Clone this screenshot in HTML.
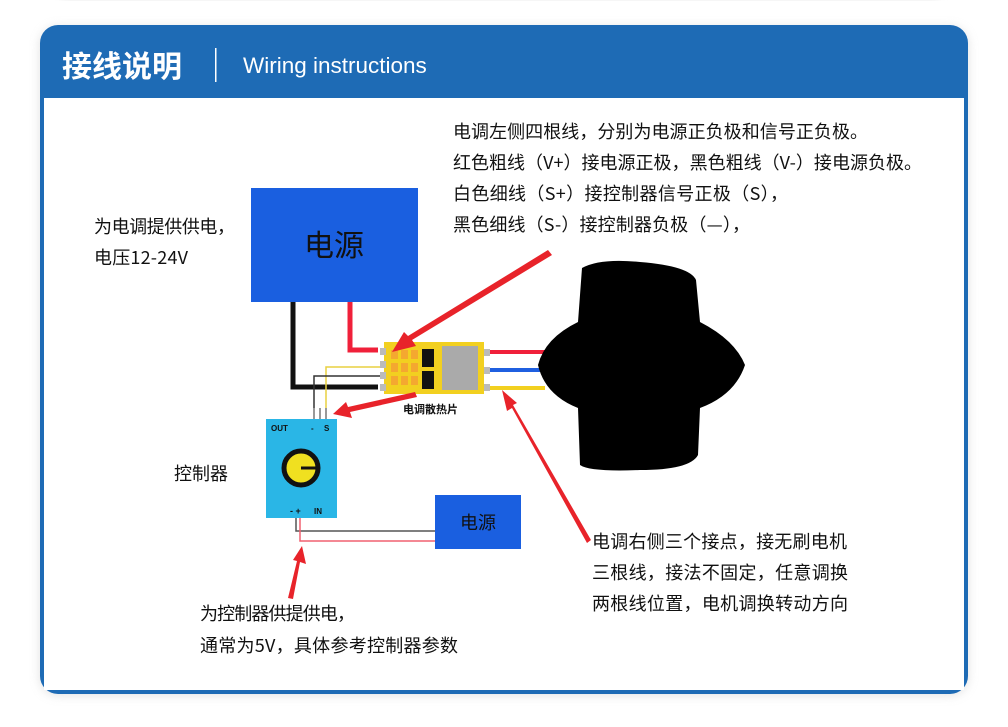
<!DOCTYPE html>
<html><head><meta charset="utf-8"><style>
body{margin:0;width:1008px;height:727px;background:#fff;overflow:hidden;font-family:"Liberation Sans","Noto Sans CJK SC",sans-serif}
</style></head><body>
<svg width="1008" height="727" viewBox="0 0 1008 727" xmlns="http://www.w3.org/2000/svg" style="position:absolute;left:0;top:0">
<defs>
<filter id="sh" x="-5%" y="-5%" width="110%" height="110%"><feGaussianBlur stdDeviation="5"/></filter>
</defs>
<rect x="60" y="-20" width="880" height="20" rx="10" fill="#ddd" filter="url(#sh)" opacity="0.6"/>
<rect x="40" y="27" width="928" height="668" rx="18" fill="#ccc" filter="url(#sh)" opacity="0.6"/>
<rect x="40" y="25" width="928" height="669" rx="18" fill="#1e6bb5"/>
<rect x="44" y="98" width="920" height="592" fill="#fff"/>
<text x="62" y="77" font-size="30" font-weight="bold" fill="#fff" font-family="Noto Sans CJK SC,sans-serif">接线说明</text>
<rect x="215" y="48" width="1.5" height="34" fill="#fff"/>
<text x="243" y="73" font-size="22.5" fill="#fff">Wiring instructions</text>

<g font-family="Noto Sans CJK SC,sans-serif" font-size="18" fill="#111">
<text x="453" y="138" textLength="415" lengthAdjust="spacing">电调左侧四根线，分别为电源正负极和信号正负极。</text>
<text x="453" y="169" textLength="469" lengthAdjust="spacing">红色粗线（V+）接电源正极，黑色粗线（V-）接电源负极。</text>
<text x="453" y="200" textLength="335" lengthAdjust="spacing">白色细线（S+）接控制器信号正极（S），</text>
<text x="453" y="231" textLength="297" lengthAdjust="spacing">黑色细线（S-）接控制器负极（—），</text>
<text x="94" y="233" textLength="141" lengthAdjust="spacing">为电调提供供电，</text>
<text x="94" y="264" textLength="94" lengthAdjust="spacing">电压12-24V</text>
<text x="174" y="480" textLength="54" lengthAdjust="spacing">控制器</text>
<text x="592" y="548" textLength="255" lengthAdjust="spacing">电调右侧三个接点，接无刷电机</text>
<text x="592" y="579" textLength="256" lengthAdjust="spacing">三根线，接法不固定，任意调换</text>
<text x="592" y="610" textLength="256" lengthAdjust="spacing">两根线位置，电机调换转动方向</text>
<text x="200" y="620" textLength="155" lengthAdjust="spacing">为控制器供提供电，</text>
<text x="200" y="652" textLength="258" lengthAdjust="spacing">通常为5V，具体参考控制器参数</text>
</g>

<rect x="251" y="188" width="167" height="114" fill="#1a5fe0"/>
<text x="334" y="256" font-size="30" text-anchor="middle" fill="#111" font-family="Noto Sans CJK SC,sans-serif">电源</text>
<polyline points="350,302 350,350 378,350" fill="none" stroke="#f0203a" stroke-width="5"/>
<polyline points="293,302 293,387 378,387" fill="none" stroke="#111" stroke-width="5"/>
<polyline points="326,410 326,367 380,367" fill="none" stroke="#e8d040" stroke-width="1.5"/>
<polyline points="314,410 314,376 380,376" fill="none" stroke="#333" stroke-width="1.5"/>
<rect x="384" y="342" width="100" height="52" fill="#f2d020"/>
<rect x="380" y="348" width="6" height="7" fill="#bbb"/><rect x="380" y="361" width="6" height="7" fill="#bbb"/>
<rect x="380" y="372" width="6" height="7" fill="#bbb"/><rect x="380" y="384" width="6" height="7" fill="#bbb"/>
<g fill="#f4a830"><rect x="391" y="350" width="7" height="9"/><rect x="401" y="350" width="7" height="9"/><rect x="411" y="350" width="7" height="9"/>
<rect x="391" y="363" width="7" height="9"/><rect x="401" y="363" width="7" height="9"/><rect x="411" y="363" width="7" height="9"/>
<rect x="391" y="376" width="7" height="9"/><rect x="401" y="376" width="7" height="9"/><rect x="411" y="376" width="7" height="9"/></g>
<rect x="422" y="349" width="12" height="18" fill="#111"/><rect x="422" y="371" width="12" height="18" fill="#111"/>
<rect x="442" y="346" width="36" height="44" fill="#aaa"/>
<rect x="484" y="349" width="6" height="7" fill="#bbb"/><rect x="484" y="367" width="6" height="7" fill="#bbb"/><rect x="484" y="384" width="6" height="7" fill="#bbb"/>
<line x1="490" y1="352" x2="545" y2="352" stroke="#f0203a" stroke-width="4"/>
<line x1="490" y1="370" x2="545" y2="370" stroke="#1f5fe0" stroke-width="4"/>
<line x1="490" y1="388" x2="545" y2="388" stroke="#f2d020" stroke-width="4"/>
<text x="403" y="413" font-size="11" font-weight="bold" fill="#111" font-family="Noto Sans CJK SC,sans-serif">电调散热片</text>
<path d="M582,268 Q600,258 640,262 Q690,266 696,280 L700,322 Q735,340 745,365 Q735,395 700,408 L698,455 Q690,470 640,470 Q590,472 580,465 L578,408 Q545,395 538,365 Q545,338 578,322 Z" fill="#000"/>
<line x1="314" y1="408" x2="314" y2="420" stroke="#999" stroke-width="2"/>
<line x1="320" y1="408" x2="320" y2="420" stroke="#999" stroke-width="2"/>
<line x1="326" y1="408" x2="326" y2="420" stroke="#999" stroke-width="2"/>
<rect x="266" y="419" width="71" height="99" fill="#2ab6e6"/>
<text x="271" y="431" font-size="8" font-weight="bold" fill="#111">OUT</text>
<text x="311" y="431" font-size="8" font-weight="bold" fill="#111">-</text>
<text x="324" y="431" font-size="8" font-weight="bold" fill="#111">S</text>
<circle cx="301" cy="468" r="17" fill="#f0e020" stroke="#111" stroke-width="5"/>
<line x1="301" y1="468" x2="318" y2="468" stroke="#111" stroke-width="3"/>
<text x="290" y="514" font-size="9" font-weight="bold" fill="#111">- +</text>
<text x="314" y="514" font-size="8" font-weight="bold" fill="#111">IN</text>
<polyline points="296,518 296,531 435,531" fill="none" stroke="#555" stroke-width="1.5"/>
<polyline points="300,518 300,541 435,541" fill="none" stroke="#f06070" stroke-width="1.5"/>
<rect x="435" y="495" width="86" height="54" fill="#1a5fe0"/>
<text x="478" y="529" font-size="18" text-anchor="middle" fill="#111" font-family="Noto Sans CJK SC,sans-serif">电源</text>
<g fill="#e8232a">
<polygon points="548,250 552,255 412,340 416,346 392,352 404,332 408,336"/>
<polygon points="415,392 417,397 350,412 352,418 333,414 346,402 348,407"/>
<polygon points="591,540 587,543 512,408 507,411 502,390 517,403 513,405"/>
<polygon points="288,598 293,599 300,562 306,564 302,546 293,560 297,561"/>
</g>
</svg>
</body></html>
